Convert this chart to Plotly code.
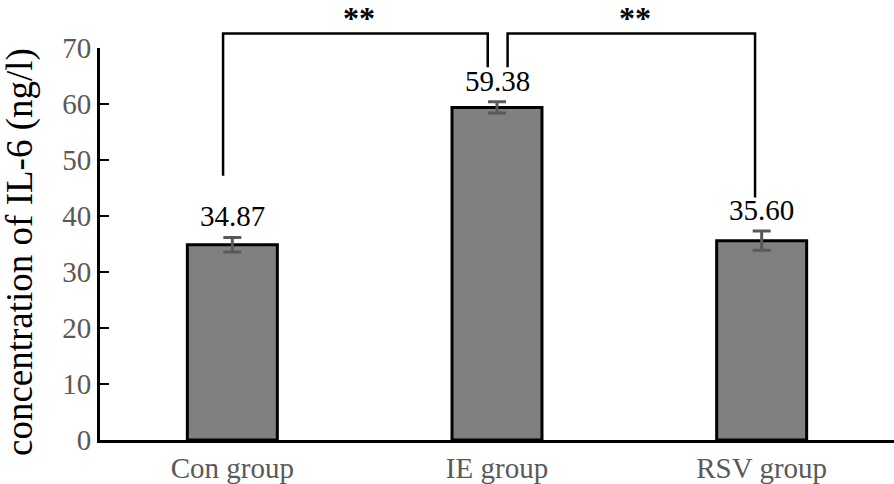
import plotly.graph_objects as go

categories = ["Con group", "IE group", "RSV group"]
values = [34.87, 59.38, 35.60]
errors = [1.3, 1.0, 1.7]
value_labels = ["34.87", "59.38", "35.60"]
y_ticks = [0, 10, 20, 30, 40, 50, 60, 70]
y_title = "concentration of IL-6 (ng/l)"
# significance brackets: (from index, to index, label)
brackets = [(0, 1, "**"), (1, 2, "**")]

YMAX = 70
FONT = "Liberation Serif, Times New Roman, serif"

fig = go.Figure()
fig.add_trace(go.Bar(
    x=list(range(len(categories))), y=values, width=0.34,
    marker=dict(color="#808080", line=dict(color="black", width=3)),
    error_y=dict(type="data", array=errors, color="#595959", thickness=3, width=9),
    showlegend=False,
))

# value labels above error bars
for i, (v, e, t) in enumerate(zip(values, errors, value_labels)):
    fig.add_annotation(x=i, y=v + e, text=t, showarrow=False, yanchor="bottom",
                       yshift=3, font=dict(family=FONT, size=29, color="black"))

# brackets
top = 72.6
leg_gap = {0: 11.0, 1: 6.2, 2: 6.0}
offs = [(-0.035, -0.035), (0.04, -0.025)]
shape_line = dict(color="black", width=2.5)
for (a, b, lab), (oa, ob) in zip(brackets, offs):
    xa, xb = a + oa, b + ob
    ya = values[a] + errors[a] + leg_gap[a]
    yb = values[b] + errors[b] + leg_gap[b]
    pts = [(xa, ya), (xa, top), (xb, top), (xb, yb)]
    path = "M " + " L ".join(f"{x},{y / YMAX}" for x, y in pts)
    fig.add_shape(type="path", path=path, xref="x", yref="paper", line=shape_line, layer="above")
    fig.add_annotation(x=(xa + xb) / 2, y=top / YMAX, xref="x", yref="paper", text="<b>" + lab + "</b>",
                       showarrow=False, yanchor="bottom", yshift=-5, xshift=4,
                       font=dict(family=FONT, size=32, color="black"))

# y-axis title
fig.add_annotation(x=0, y=0.5, xref="paper", yref="paper", text=y_title, textangle=-90,
                   showarrow=False, xanchor="center", yanchor="middle", xshift=-80, yshift=-8,
                   font=dict(family=FONT, size=37, color="black"))

fig.update_layout(
    width=894, height=484,
    margin=dict(l=100, r=0, t=48, b=42),
    paper_bgcolor="white", plot_bgcolor="white",
    font=dict(family=FONT),
    xaxis=dict(range=[-0.5, 2.5], tickvals=list(range(len(categories))), ticktext=categories,
               showline=True, linecolor="black", linewidth=3, ticks="", showgrid=False,
               zeroline=False, tickfont=dict(family=FONT, size=29, color="#595959")),
    yaxis=dict(range=[0, YMAX], tickvals=y_ticks, showline=True, linecolor="black", linewidth=3,
               ticks="inside", ticklen=9, tickwidth=2, tickcolor="black", showgrid=False,
               zeroline=False, tickfont=dict(family=FONT, size=29, color="#595959")),
)

fig.write_html("out.html", config={"displayModeBar": False})
with open("out.html", encoding="utf-8") as f:
    html = f.read()
html = html.replace("<head>", "<head><style>html,body{margin:0;padding:0;overflow:hidden}</style>", 1)
with open("out.html", "w", encoding="utf-8") as f:
    f.write(html)
